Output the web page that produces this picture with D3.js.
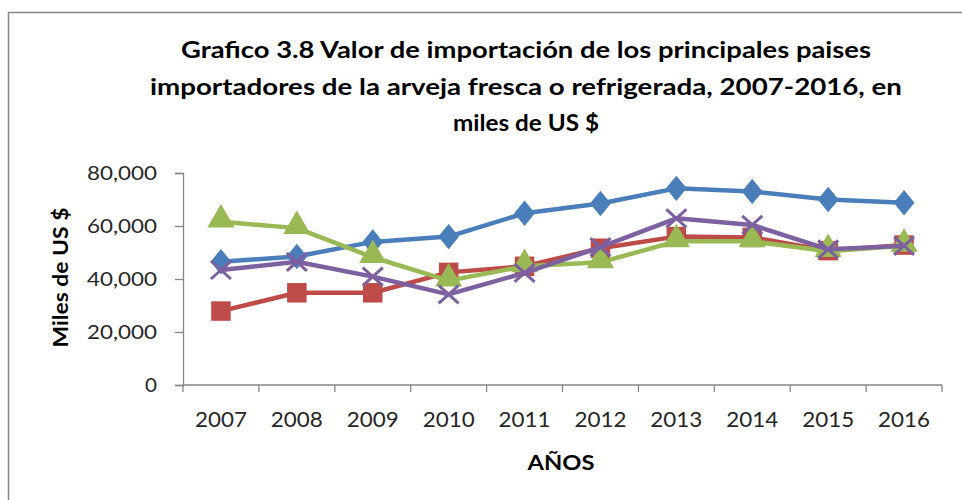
<!DOCTYPE html>
<html lang="es">
<head>
<meta charset="utf-8" />
<title>Grafico 3.8</title>
<script src="https://d3js.org/d3.v7.min.js"></script>
<style>
  body { margin: 0; background: #fff; }
  text { font-family: Lato, "Open Sans", sans-serif; fill: #000; }
  .axis text { fill: #262626; }
  .axis path, .axis line { stroke: #868686; stroke-width: 1.3px; }
  .line { fill: none; stroke-width: 4.5px; stroke-linejoin: round; }
</style>
</head>
<body>
<script>

// years on the x axis
var years = ["2007","2008","2009","2010","2011","2012","2013","2014","2015","2016"];

// series values, miles de US $
var serieAzul   = [46500, 48500, 54000, 56000, 64800, 68500, 74200, 73000, 70000, 68800];
var serieRoja   = [27900, 34800, 34800, 42500, 44800, 51600, 56000, 55700, 50700, 52800];
var serieVerde  = [61600, 59200, 48200, 39400, 44800, 46300, 54200, 54200, 50500, 52500];
var serieMorada = [43400, 46500, 40900, 34200, 42300, 52000, 62900, 60400, 51200, 52500];

var yTicks = [0, 20000, 40000, 60000, 80000];

var W = 962, H = 500;
var svg = d3.select("body").append("svg")
    .attr("width", W)
    .attr("height", H);

// outer frame of the chart
svg.append("path")
    .attr("d", "M8.5," + H + "V12.5H" + W)
    .attr("fill", "none")
    .attr("stroke", "#868686")
    .attr("stroke-width", 1.5);

// title
var title = [
  "Grafico 3.8 Valor de importación de los principales paises",
  "importadores  de la arveja fresca o refrigerada, 2007-2016, en",
  "miles de US $"
];
var titleLen = [690, 752, 146];
svg.append("g").selectAll("text")
    .data(title)
  .enter().append("text")
    .attr("x", 526)
    .attr("y", function(d, i) { return 58 + i * 36.5; })
    .attr("text-anchor", "middle")
    .style("font-size", "22px")
    .style("font-weight", "bold")
    .attr("textLength", function(d, i) { return titleLen[i]; })
    .attr("lengthAdjust", "spacingAndGlyphs")
    .text(function(d) { return d; });

// scales
var x = d3.scaleBand().domain(years).range([183, 942]);
var y = d3.scaleLinear().domain([0, 80000]).range([385, 173]);

// y axis
var yAxis = svg.append("g")
    .attr("class", "axis")
    .attr("transform", "translate(183,0)")
    .call(d3.axisLeft(y).tickValues(yTicks).tickSize(8).tickPadding(18)
      .tickFormat(d3.format(",")));
yAxis.selectAll("text")
    .style("font-size", "20px")
    .attr("textLength", function(d) { return d === 0 ? 12 : 70; })
    .attr("lengthAdjust", "spacingAndGlyphs");

// x axis, ticks at the band edges
var xAxis = svg.append("g")
    .attr("class", "axis")
    .attr("transform", "translate(0,385)");
xAxis.append("path")
    .attr("d", "M183,0H942");
xAxis.selectAll("line.tk")
    .data(years.concat(["end"]))
  .enter().append("line")
    .attr("class", "tk")
    .attr("x1", function(d, i) { return i < years.length ? x(d) : x.range()[1]; })
    .attr("x2", function(d, i) { return i < years.length ? x(d) : x.range()[1]; })
    .attr("y1", 0)
    .attr("y2", 7);
xAxis.selectAll("text")
    .data(years)
  .enter().append("text")
    .attr("x", function(d) { return x(d) + x.bandwidth() / 2; })
    .attr("y", 42)
    .attr("text-anchor", "middle")
    .style("font-size", "22px")
    .attr("textLength", 52)
    .attr("lengthAdjust", "spacingAndGlyphs")
    .text(function(d) { return d; });

// axis titles
svg.append("text")
    .attr("x", 561)
    .attr("y", 470)
    .attr("text-anchor", "middle")
    .style("font-size", "21px")
    .style("font-weight", "bold")
    .attr("textLength", 67)
    .attr("lengthAdjust", "spacingAndGlyphs")
    .text("AÑOS");

svg.append("text")
    .attr("transform", "translate(67.5,277.5) rotate(-90)")
    .attr("text-anchor", "middle")
    .style("font-size", "21px")
    .style("font-weight", "bold")
    .attr("textLength", 140)
    .attr("lengthAdjust", "spacingAndGlyphs")
    .text("Miles de US $");

// series
var series = [
  { values: serieAzul,   color: "#4A7EBB", marker: "diamond" },
  { values: serieRoja,   color: "#BE4B48", marker: "square" },
  { values: serieVerde,  color: "#98B954", marker: "triangle" },
  { values: serieMorada, color: "#7D60A0", marker: "x" }
];

var cx = function(i) { return x(years[i]) + x.bandwidth() / 2; };

var line = d3.line()
    .x(function(d, i) { return cx(i); })
    .y(function(d) { return y(d); });

var symbols = {
  diamond: d3.symbol().type(d3.symbolDiamond2).size(340),
  square: d3.symbol().type(d3.symbolSquare).size(380),
  triangle: d3.symbol().type(d3.symbolTriangle).size(320)
};

series.forEach(function(s) {
  var g = svg.append("g");
  g.append("path")
      .datum(s.values)
      .attr("class", "line")
      .attr("stroke", s.color)
      .attr("d", line);

  var m = g.selectAll(".mk")
      .data(s.values)
    .enter().append("g")
      .attr("transform", function(d, i) { return "translate(" + cx(i) + "," + y(d) + ")"; });

  if (s.marker === "x") {
    m.append("path")
        .attr("d", "M-10,-9L10,9M-10,9L10,-9")
        .attr("stroke", s.color)
        .attr("stroke-width", 3)
        .attr("fill", "none");
  } else {
    m.append("path")
        .attr("d", symbols[s.marker]())
        .attr("fill", s.color)
        .attr("transform", s.marker === "diamond" ? "scale(0.9,1.1)" : (s.marker === "triangle" ? "translate(0,-2)" : null));
  }
});

</script>
</body>
</html>
